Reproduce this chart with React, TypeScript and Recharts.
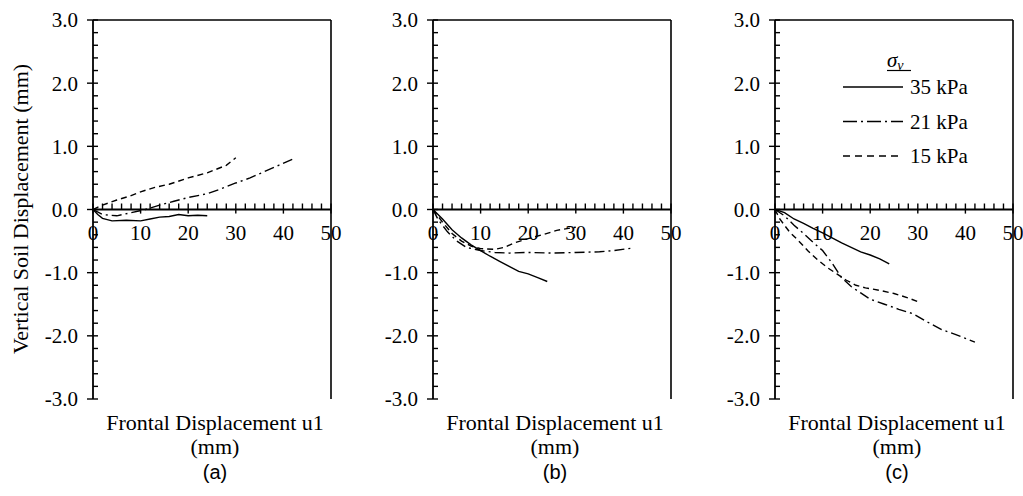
import React from 'react';
import { LineChart, Line, XAxis, YAxis, ReferenceLine, ReferenceDot } from 'recharts';

// ---- data (x: frontal displacement u1 mm, y: vertical soil displacement mm)
const a35 = [[0,0],[1,-0.08],[2,-0.14],[4,-0.18],[7,-0.17],[10,-0.18],[12,-0.15],[14,-0.12],[16,-0.11],[18,-0.08],[20,-0.1],[22,-0.09],[24,-0.1]];
const a21 = [[0,0],[2,-0.08],[5,-0.1],[8,-0.05],[11,0],[14,0.07],[17,0.13],[20,0.19],[24,0.25],[27,0.33],[30,0.42],[33,0.5],[36,0.6],[39,0.7],[42,0.8]];
const a15 = [[0,0],[2,0.07],[5,0.15],[8,0.22],[10,0.28],[13,0.35],[16,0.4],[20,0.5],[24,0.58],[28,0.7],[30,0.82]];

const b35 = [[0,0],[2,-0.15],[4,-0.32],[6,-0.45],[8,-0.56],[10,-0.65],[12,-0.74],[14,-0.82],[16,-0.9],[18,-0.98],[20,-1.02],[22,-1.08],[24,-1.14]];
const b21 = [[0,0],[1,-0.15],[3,-0.35],[5,-0.5],[7,-0.6],[10,-0.65],[13,-0.68],[16,-0.69],[20,-0.68],[25,-0.69],[30,-0.68],[35,-0.67],[38,-0.65],[42,-0.61]];
const b15 = [[0,0],[2,-0.2],[4,-0.38],[6,-0.5],[8,-0.58],[10,-0.62],[13,-0.63],[15,-0.6],[17,-0.53],[20,-0.46],[23,-0.4],[26,-0.33],[30,-0.28]];

const c35 = [[0,0],[2,-0.05],[4,-0.15],[6,-0.22],[8,-0.3],[10,-0.37],[12,-0.45],[14,-0.53],[16,-0.6],[18,-0.67],[20,-0.72],[22,-0.78],[24,-0.86]];
const c21 = [[0,0],[2,-0.1],[4,-0.25],[6,-0.38],[8,-0.52],[10,-0.65],[12,-0.85],[14,-1.08],[16,-1.22],[18,-1.32],[20,-1.42],[23,-1.5],[26,-1.58],[29,-1.65],[32,-1.78],[35,-1.9],[38,-1.98],[42,-2.1]];
const c15 = [[0,0],[1,-0.15],[3,-0.35],[5,-0.5],[7,-0.66],[9,-0.8],[11,-0.92],[13,-1.02],[15,-1.12],[17,-1.2],[19,-1.24],[22,-1.28],[25,-1.33],[28,-1.4],[30,-1.46]];

const seriesNames = ['35 kPa', '21 kPa', '15 kPa'];
const dashes = ['', '10 4 2 4', '6 4'];
const legendDashes = ['', '14 4 2 4', '7 5'];
const panelLetters = ['(a)', '(b)', '(c)'];
const xTitle = 'Frontal Displacement u1';
const xUnit = '(mm)';
const yTitle = 'Vertical Soil Displacement (mm)';

const xMajor = [0, 10, 20, 30, 40, 50];
const xMinor = [2, 4, 6, 8, 12, 14, 16, 18, 22, 24, 26, 28, 32, 34, 36, 38, 42, 44, 46, 48];
const yMajor = [-3, -2, -1, 0, 1, 2, 3];
const yMinor = [-2.8, -2.6, -2.4, -2.2, -1.8, -1.6, -1.4, -1.2, -0.8, -0.6, -0.4, -0.2, 0.2, 0.4, 0.6, 0.8, 1.2, 1.4, 1.6, 1.8, 2.2, 2.4, 2.6, 2.8];

const SERIF = '"Liberation Serif", "Times New Roman", serif';
const SANS = '"Liberation Sans", Arial, sans-serif';

const plotLefts = [93, 433, 775];

const toPts = (arr: number[][]) => arr.map(([x, y]) => ({ x, y }));

type PanelProps = { plotLeft: number; sets: number[][][] };

const Panel = ({ plotLeft, sets }: PanelProps) => {
  const chartLeft = plotLeft - 63;
  return (
    <div style={{ position: 'absolute', left: chartLeft, top: 0 }}>
      <LineChart width={321} height={496} margin={{ top: 20, right: 20, bottom: 97, left: 33 }}>
        <XAxis type="number" dataKey="x" domain={[0, 50]} ticks={[]} tick={false} tickLine={false} height={0}
          axisLine={{ stroke: '#000', strokeWidth: 1.6 }} allowDataOverflow />
        <YAxis type="number" dataKey="y" domain={[-3, 3]} ticks={yMajor} width={30} interval={0}
          tickFormatter={(v: number) => v.toFixed(1)} tickSize={6} tickMargin={9}
          tick={{ fill: '#000', fontSize: 21, fontFamily: SERIF }}
          tickLine={{ stroke: '#000', strokeWidth: 1.4 }}
          axisLine={{ stroke: '#000', strokeWidth: 1.8 }} allowDataOverflow />
        <ReferenceLine x={50} stroke="#000" strokeWidth={1.6} />
        <ReferenceLine y={3} stroke="#000" strokeWidth={1.6} />
        <ReferenceLine y={0} stroke="#000" strokeWidth={2} />
        {yMajor.map(v => (
          <ReferenceLine key={'ym' + v} segment={[{ x: 0, y: v }, { x: 1.05, y: v }]} stroke="#000" strokeWidth={1.4} />
        ))}
        {yMinor.map(v => (
          <ReferenceLine key={'yn' + v} segment={[{ x: 0, y: v }, { x: 1.05, y: v }]} stroke="#000" strokeWidth={1.4} />
        ))}
        {xMinor.map(v => (
          <ReferenceLine key={'xn' + v} segment={[{ x: v, y: 0 }, { x: v, y: 0.095 }]} stroke="#000" strokeWidth={1.4} />
        ))}
        {xMajor.map(v => (
          <ReferenceLine key={'xm' + v} segment={[{ x: v, y: -0.065 }, { x: v, y: 0.095 }]} stroke="#000" strokeWidth={1.4} />
        ))}
        {xMajor.map(v => (
          <ReferenceDot key={'xl' + v} x={v} y={0} r={0} stroke="none" fill="none"
            label={{ value: String(v), position: 'bottom', offset: 16, fill: '#000', fontSize: 21, fontFamily: SERIF }} />
        ))}
        {sets.map((s, i) => (
          <Line key={seriesNames[i]} name={seriesNames[i]} data={toPts(s)} dataKey="y" type="linear" dot={false}
            stroke="#000" strokeWidth={1.4} strokeDasharray={dashes[i] || undefined} isAnimationActive={false} />
        ))}
      </LineChart>
    </div>
  );
};

export default function App() {
  return (
    <div style={{ position: 'absolute', left: 0, top: 0, width: 1023, height: 496, overflow: 'hidden', background: '#fff' }}>
      <Panel plotLeft={plotLefts[0]} sets={[a35, a21, a15]} />
      <Panel plotLeft={plotLefts[1]} sets={[b35, b21, b15]} />
      <Panel plotLeft={plotLefts[2]} sets={[c35, c21, c15]} />
      <svg width={1023} height={496} style={{ position: 'absolute', left: 0, top: 0, pointerEvents: 'none' }}>
        <text transform="translate(28,209) rotate(-90)" textAnchor="middle" fontFamily={SERIF} fontSize={22} fill="#000">{yTitle}</text>
        {plotLefts.map((pl, i) => (
          <g key={i}>
            <text x={pl + 122} y={430} textAnchor="middle" fontFamily={SERIF} fontSize={22} fill="#000">{xTitle}</text>
            <text x={pl + 122} y={454} textAnchor="middle" fontFamily={SERIF} fontSize={22} fill="#000">{xUnit}</text>
            <text x={pl + 122} y={479} textAnchor="middle" fontFamily={SANS} fontSize={20} fill="#000">{panelLetters[i]}</text>
          </g>
        ))}
        <g transform="translate(840,50)">
          <text x={47} y={17} fontFamily={SERIF} fontSize={21} fontStyle="italic" fill="#000">
            σ<tspan fontSize={14} dy={3}>v</tspan>
          </text>
          <line x1={47} x2={71} y1={20.5} y2={20.5} stroke="#000" strokeWidth={1.2} />
          {seriesNames.map((n, i) => (
            <g key={n}>
              <line x1={3} x2={63} y1={37 + i * 34.5} y2={37 + i * 34.5} stroke="#000" strokeWidth={1.4} strokeDasharray={legendDashes[i] || undefined} />
              <text x={70} y={44 + i * 34.5} fontFamily={SERIF} fontSize={21} fill="#000">{n}</text>
            </g>
          ))}
        </g>
      </svg>
    </div>
  );
}
